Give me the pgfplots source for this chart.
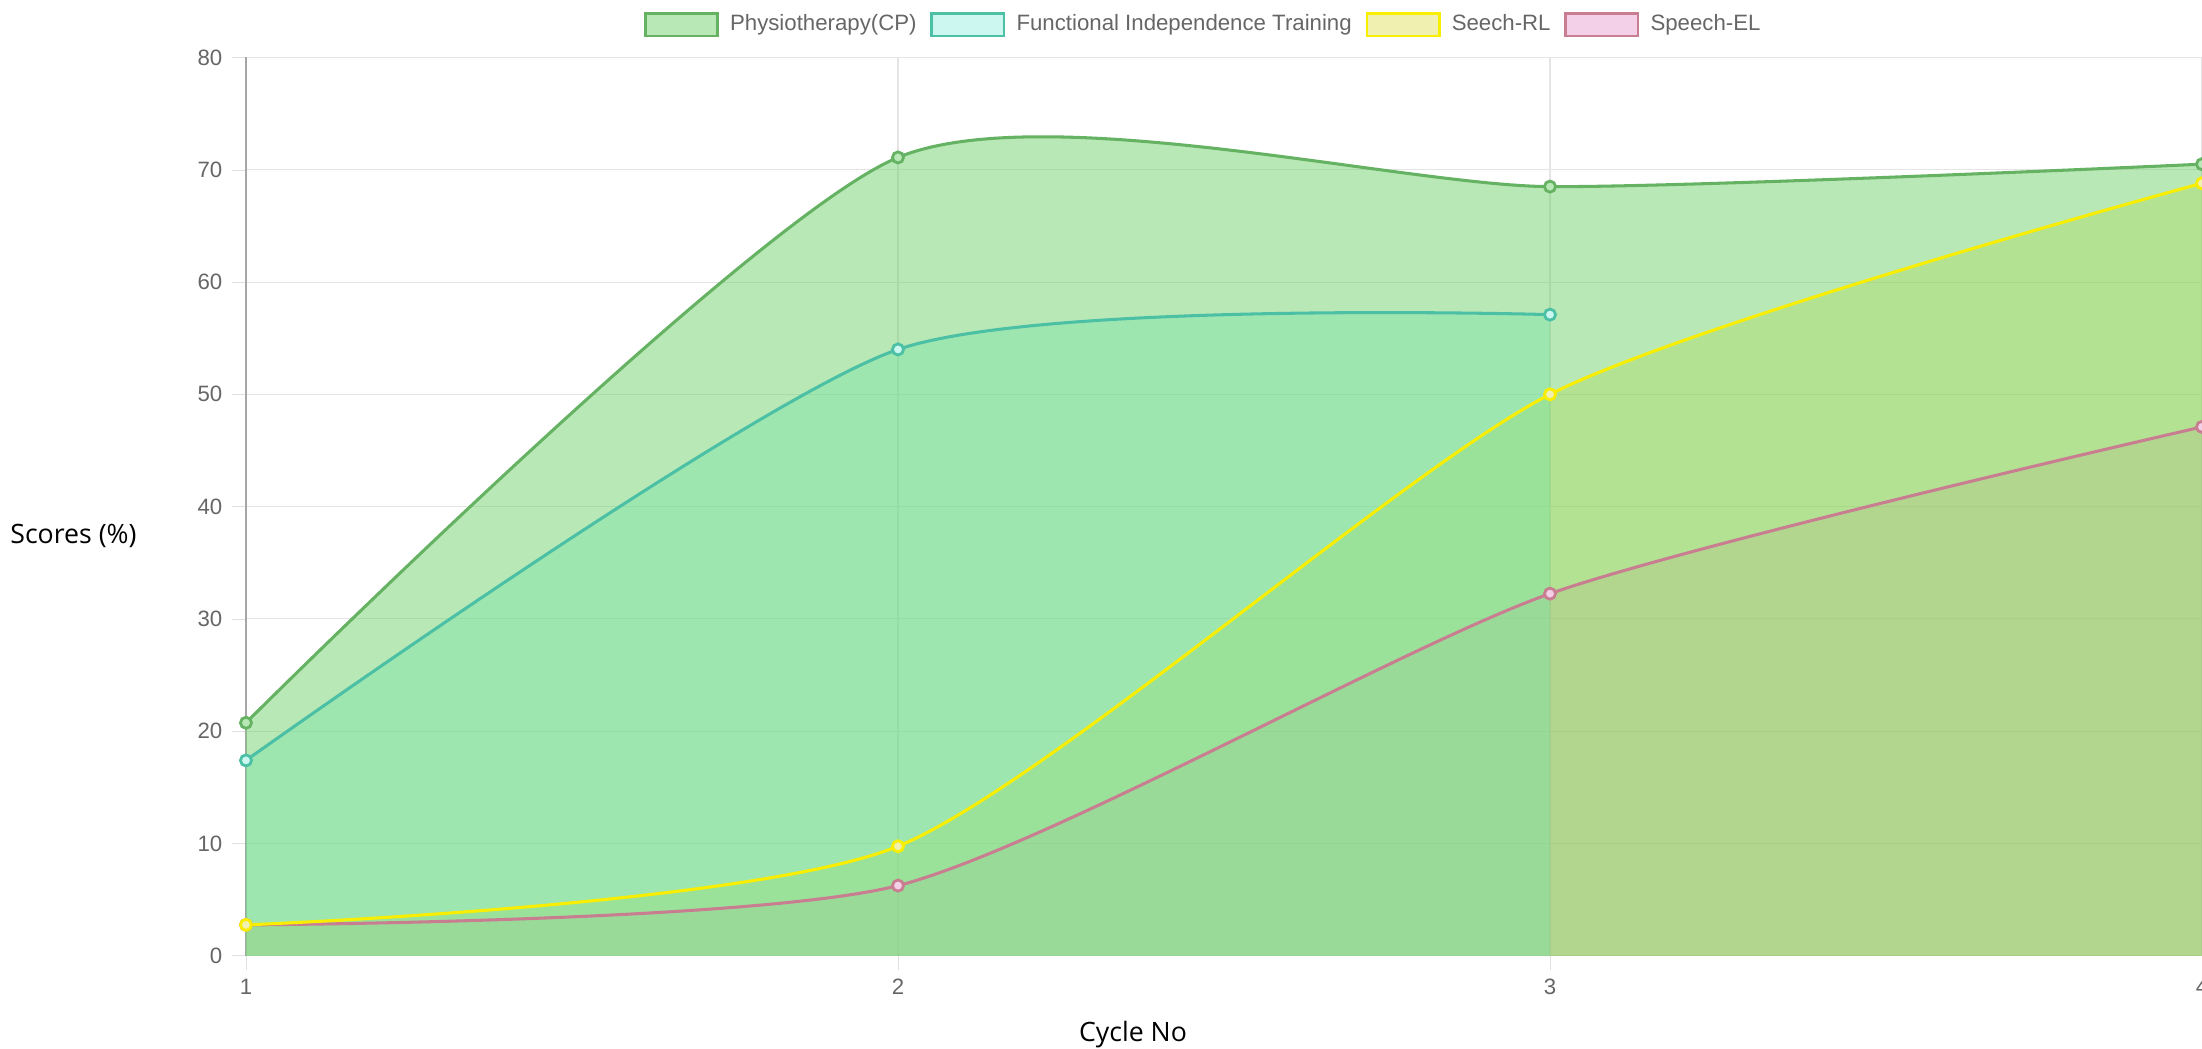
\documentclass[border=0pt]{standalone}
\usepackage{pgfplots}
\usepackage{pgfplotstable}
\usepackage{fontspec}
\pgfplotsset{compat=1.18}
\setmainfont{Liberation Sans}
\newfontfamily\titlefont{Open Sans}

% line / fill / legend-box colours
\definecolor{physL}{RGB}{100,178,98}
\definecolor{physF}{RGB}{115,209,111}
\definecolor{physLeg}{RGB}{185,232,183}
\definecolor{fitL}{RGB}{75,192,165}
\definecolor{fitF}{RGB}{118,227,166}
\definecolor{fitLeg}{RGB}{204,246,240}
\definecolor{rlL}{RGB}{250,238,0}
\definecolor{rlF}{RGB}{165,212,60}
\definecolor{rlLeg}{RGB}{240,240,176}
\definecolor{elL}{RGB}{200,125,145}
\definecolor{elF}{RGB}{185,147,169}
\definecolor{elLeg}{RGB}{244,208,232}
\definecolor{tickgray}{RGB}{102,102,102}

\pgfplotstableread{
x y
1 20.75
2 71.1
3 68.5
4 70.5
}\phys
\pgfplotstableread{
x y
1 17.4
2 54.0
3 57.1
}\fit
\pgfplotstableread{
x y
1 2.75
2 9.75
3 50.0
4 68.8
}\seechrl
\pgfplotstableread{
x y
1 2.75
2 6.25
3 32.25
4 47.1
}\speechel

\begin{document}
\begin{tikzpicture}
\begin{axis}[
    name=ax,
    scale only axis,
    width=704.2pt, height=323.4pt,
    xmin=1, xmax=4, ymin=0, ymax=80,
    xtick={1,2,3,4},
    ytick={0,10,...,80},
    axis x line=bottom, axis y line=left,
    x axis line style={draw=black!12,-},
    y axis line style={draw=black!35,-},
    tick align=outside,
    major tick length=5pt,
    tick style={black!12},
    grid=major,
    grid style={black!10},
    tick label style={font=\fontsize{8}{9}\selectfont, text=tickgray},
    /pgf/number format/assume math mode=true,
    xlabel={Cycle No},
    ylabel={Scores (\%)},
    label style={font=\titlefont\fontsize{9.6}{11}\selectfont},
    xlabel style={at={(axis description cs:0.4535,-0.0879)}, anchor=center},
    ylabel style={at={(axis description cs:-0.0882,0.4675)}, anchor=center, rotate=-90},
    legend style={at={(axis description cs:0.4903,1.0363)}, anchor=center,
        draw=none, fill=none, font=\fontsize{8}{9}\selectfont, text=tickgray,
        legend columns=4,
        /tikz/every even column/.append style={column sep=3pt},
        /tikz/every odd column/.append style={column sep=2pt}},
    smooth, tension=0.4,
]
% fills
\addplot[forget plot, draw=none, fill=physF, fill opacity=0.5] table {\phys} \closedcycle;
\addplot[forget plot, draw=none, fill=elF, fill opacity=0.2] table {\speechel} \closedcycle;
\addplot[forget plot, draw=none, fill=rlF, fill opacity=0.3] table {\seechrl} \closedcycle;
\addplot[forget plot, draw=none, fill=fitF, fill opacity=0.4] table {\fit} \closedcycle;
% lines
\addplot[forget plot, elL, line width=1.1pt, mark=*, mark size=2pt,
    mark options={fill=elLeg, draw=elL, line width=1pt}] table {\speechel};
\addplot[forget plot, rlL, line width=1.1pt, mark=*, mark size=2pt,
    mark options={fill=rlLeg, draw=rlL, line width=1pt}] table {\seechrl};
\addplot[forget plot, fitL, line width=1.1pt, mark=*, mark size=2pt,
    mark options={fill=fitLeg, draw=fitL, line width=1pt}] table {\fit};
\addplot[forget plot, physL, line width=1.1pt, mark=*, mark size=2pt,
    mark options={fill=physLeg, draw=physL, line width=1pt}] table {\phys};
% legend
\addlegendimage{legend image code/.code={\draw[draw=physL,fill=physLeg,line width=1pt] (0pt,-4pt) rectangle (26pt,4pt);}}
\addlegendentry{Physiotherapy(CP)}
\addlegendimage{legend image code/.code={\draw[draw=fitL,fill=fitLeg,line width=1pt] (0pt,-4pt) rectangle (26pt,4pt);}}
\addlegendentry{Functional Independence Training}
\addlegendimage{legend image code/.code={\draw[draw=rlL,fill=rlLeg,line width=1pt] (0pt,-4pt) rectangle (26pt,4pt);}}
\addlegendentry{Seech-RL}
\addlegendimage{legend image code/.code={\draw[draw=elL,fill=elLeg,line width=1pt] (0pt,-4pt) rectangle (26pt,4pt);}}
\addlegendentry{Speech-EL}
\end{axis}
\pgfresetboundingbox
\path[use as bounding box] ([shift={(-88.56pt,-33.5pt)}]ax.south west) rectangle ([yshift=20.7pt]ax.north east);
\end{tikzpicture}
\end{document}
